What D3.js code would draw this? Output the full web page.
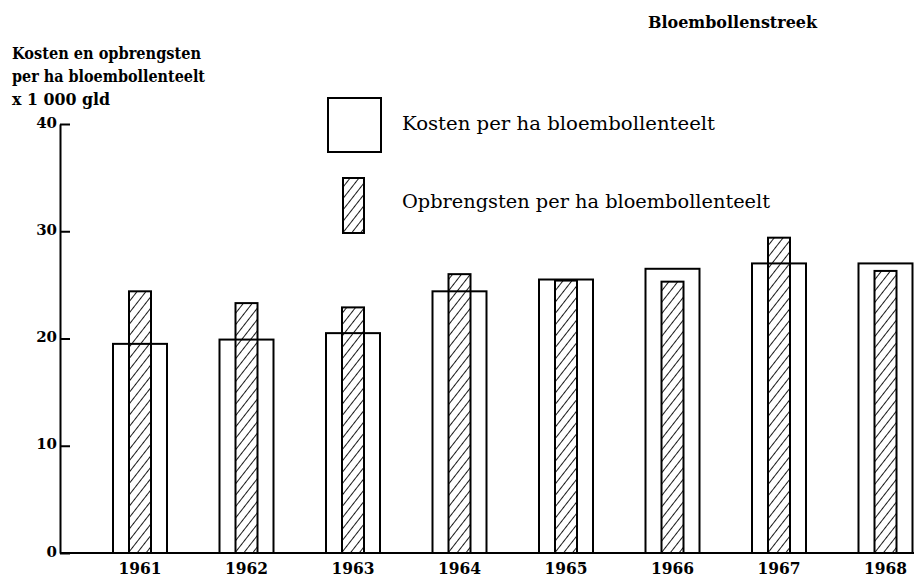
<!DOCTYPE html>
<html><head><meta charset="utf-8">
<script src="https://cdn.jsdelivr.net/npm/d3@7"></script>
<style>
body{margin:0;background:#fff;}
svg{display:block;}
</style></head>
<body>
<script>
const years = ["1961","1962","1963","1964","1965","1966","1967","1968"];
const kosten = [19.5, 19.9, 20.5, 24.4, 25.5, 26.5, 27.0, 27.0];
const opbrengsten = [24.4, 23.3, 22.9, 26.0, 25.4, 25.3, 29.4, 26.3];
const yTicks = [0, 10, 20, 30, 40];
const titleLines = ["Kosten en opbrengsten", "per ha bloembollenteelt", "x 1 000 gld"];
const regionLabel = "Bloembollenstreek";
const legendLabels = ["Kosten per ha bloembollenteelt", "Opbrengsten per ha bloembollenteelt"];

const W = 914, H = 578;
const svg = d3.select("body").append("svg").attr("width", W).attr("height", H)
  .style("font-family", "'DejaVu Serif', serif");

const defs = svg.append("defs");
const pat = defs.append("pattern").attr("id","hatch").attr("patternUnits","userSpaceOnUse")
  .attr("width",7).attr("height",7).attr("patternTransform","rotate(38)");
pat.append("rect").attr("width",7).attr("height",7).attr("fill","#fff");
pat.append("line").attr("x1",0).attr("y1",0).attr("x2",0).attr("y2",7)
  .attr("stroke","#000").attr("stroke-width",1.8);

const y = d3.scaleLinear().domain([0,40]).range([553,124]);
const x = d3.scaleBand().domain(years).range([86.75, 938.75]).paddingInner(0.493).paddingOuter(0.2465);
const hw = 22;

// hatched bars (drawn first)
svg.append("g").selectAll("rect").data(years).join("rect")
  .attr("x", d => x(d) + x.bandwidth()/2 - hw/2)
  .attr("width", hw)
  .attr("y", (d,i) => y(opbrengsten[i]))
  .attr("height", (d,i) => y(0) - y(opbrengsten[i]))
  .attr("fill","url(#hatch)").attr("stroke","#000").attr("stroke-width",2);

// cost boxes
svg.append("g").selectAll("rect").data(years).join("rect")
  .attr("x", d => x(d))
  .attr("width", x.bandwidth())
  .attr("y", (d,i) => y(kosten[i]))
  .attr("height", (d,i) => y(0) - y(kosten[i]))
  .attr("fill","none").attr("stroke","#000").attr("stroke-width",2);

// y axis
const ya = svg.append("g").attr("transform","translate(60,0)")
  .call(d3.axisLeft(y).tickValues(yTicks).tickSizeInner(-10).tickSizeOuter(0).tickPadding(3));
ya.select(".domain").attr("stroke","#000").attr("stroke-width",2);
ya.selectAll(".tick line").attr("stroke","#000").attr("stroke-width",2);
ya.selectAll(".tick text").attr("font-family","'DejaVu Serif', serif").attr("font-weight","bold")
  .attr("font-size",15).attr("fill","#000").attr("dy","0.2em");

// x axis
svg.append("line").attr("x1",60).attr("x2",914).attr("y1",y(0)).attr("y2",y(0))
  .attr("stroke","#000").attr("stroke-width",2);
const xa = svg.append("g").attr("transform",`translate(0,${y(0)})`)
  .call(d3.axisBottom(x).tickSize(0).tickPadding(10));
xa.select(".domain").remove();
xa.selectAll(".tick text").attr("font-family","'DejaVu Serif', serif").attr("font-weight","bold")
  .attr("font-size",16).attr("fill","#000")
  .attr("textLength",43).attr("lengthAdjust","spacingAndGlyphs");

// y title
const tl = svg.append("g").attr("font-weight","bold").attr("font-size",16);
const tlW = [189, 193, 98];
tl.selectAll("text").data(titleLines).join("text")
  .attr("x",12).attr("y",(d,i)=>59 + i*23)
  .attr("textLength",(d,i)=>tlW[i]).attr("lengthAdjust","spacingAndGlyphs")
  .text(d=>d);

// region label
svg.append("text").attr("x",648).attr("y",28).attr("font-weight","bold").attr("font-size",16)
  .attr("textLength",169).attr("lengthAdjust","spacingAndGlyphs").text(regionLabel);

// legend
svg.append("rect").attr("x",328).attr("y",98).attr("width",53).attr("height",54)
  .attr("fill","none").attr("stroke","#000").attr("stroke-width",2);
svg.append("rect").attr("x",343).attr("y",178).attr("width",21).attr("height",55)
  .attr("fill","url(#hatch)").attr("stroke","#000").attr("stroke-width",2);
const lgW = [313, 368];
svg.append("g").attr("font-size",18).selectAll("text").data(legendLabels).join("text")
  .attr("x",402).attr("y",(d,i)=> i===0 ? 130 : 208)
  .attr("textLength",(d,i)=>lgW[i]).attr("lengthAdjust","spacingAndGlyphs")
  .text(d=>d);
</script>
</body></html>
